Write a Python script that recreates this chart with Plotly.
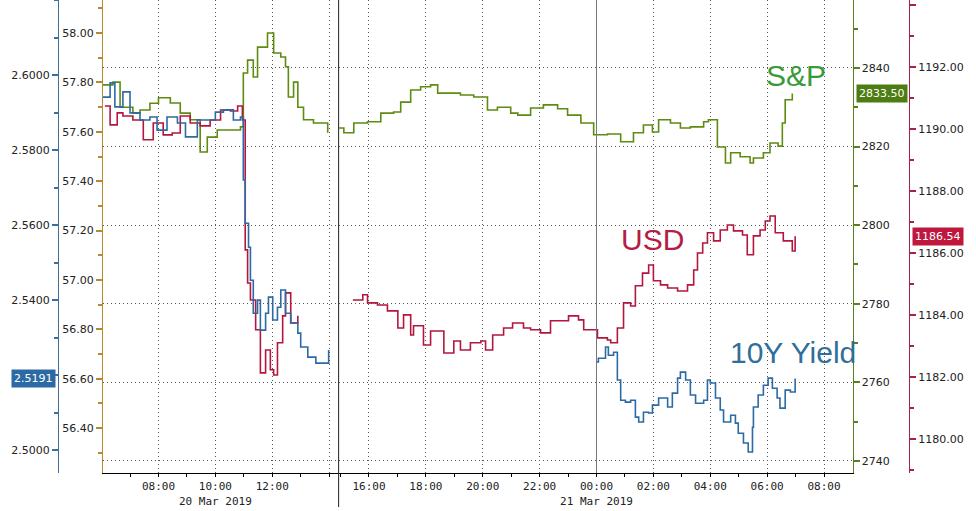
import plotly.graph_objects as go

# ---------------- data ----------------
# times are "DD HH:MM" in March 2019; None marks a session gap
SP_TIME = ["20 06:03", "20 06:24", "20 06:39", "20 07:06", "20 07:21", "20 07:42", "20 08:00",
           "20 08:25", "20 08:46", "20 09:07", "20 09:28", "20 09:43", "20 10:04", "20 10:32",
           "20 10:53", "20 10:59", "20 11:08", "20 11:20", "20 11:29", "20 11:50", "20 12:03",
           "20 12:18", "20 12:28", "20 12:34", "20 12:45", "20 12:54", "20 13:06", "20 13:27",
           "20 13:57", None,
           "20 14:57", "20 15:07", "20 15:28", "20 15:57", "20 16:25", "20 16:52", "20 17:07",
           "20 17:28", "20 17:49", "20 18:10", "20 18:25", "20 18:46", "20 19:13", "20 19:41",
           "20 20:10", "20 20:31", "20 20:59", "20 21:14", "20 21:41", "20 22:08", "20 22:38",
           "20 22:59", "20 23:27", "20 23:54", "21 00:23", "21 00:51", "21 01:18", "21 01:39",
           "21 01:58", "21 02:11", "21 02:36", "21 02:57", "21 03:18", "21 03:46", "21 03:56",
           "21 04:15", "21 04:32", "21 04:43", "21 05:03", "21 05:24", "21 05:31", "21 05:52",
           "21 06:06", "21 06:23", "21 06:32", "21 06:38", "21 06:53"]
SP_VALUE = [2835.7, 2836.4, 2830.0, 2828.5, 2829.3, 2831.0, 2832.4,
            2831.1, 2828.5, 2826.8, 2818.6, 2822.4, 2824.2, 2824.2,
            2825.0, 2838.7, 2842.0, 2837.7, 2845.3, 2848.9, 2843.8,
            2842.8, 2840.3, 2832.6, 2836.4, 2830.0, 2826.8, 2826.0,
            2823.5, None,
            2824.7, 2823.5, 2826.0, 2826.3, 2828.5, 2828.8, 2831.3,
            2834.4, 2835.2, 2835.7, 2833.6, 2833.6, 2833.1, 2832.6,
            2829.3, 2830.0, 2828.5, 2828.0, 2829.8, 2830.6, 2829.6,
            2828.0, 2826.0, 2823.0, 2823.2, 2821.2, 2823.5, 2825.5,
            2823.7, 2826.8, 2826.0, 2824.7, 2825.0, 2826.3, 2826.8,
            2819.9, 2815.8, 2818.4, 2817.4, 2815.8, 2817.1, 2818.4,
            2820.9, 2820.1, 2826.0, 2831.9, 2833.5]

USD_TIME = ["20 06:07", "20 06:18", "20 06:33", "20 06:45", "20 07:06", "20 07:28", "20 07:49",
            "20 08:10", "20 08:29", "20 08:46", "20 09:07", "20 09:28", "20 09:49", "20 10:11",
            "20 10:32", "20 10:47", "20 10:57", "20 11:03", "20 11:08", "20 11:14", "20 11:25",
            "20 11:35", "20 11:46", "20 11:56", "20 12:03", "20 12:11", "20 12:22", "20 12:28",
            "20 12:39", "20 12:54", None,
            "20 15:26", "20 15:47", "20 15:57", "20 16:18", "20 16:39", "20 17:01", "20 17:13",
            "20 17:28", "20 17:34", "20 17:55", "20 18:10", "20 18:38", "20 18:59", "20 19:13",
            "20 19:34", "20 19:56", "20 20:06", "20 20:21", "20 20:44", "20 21:03", "20 21:26",
            "20 21:41", "20 22:02", "20 22:23", "20 22:44", "20 23:01", "20 23:22", "20 23:33",
            "20 23:54", "21 00:02", "21 00:23", "21 00:30", "21 00:44", "21 00:57", "21 01:12",
            "21 01:22", "21 01:37", "21 01:50", "21 02:00", "21 02:15", "21 02:30", "21 02:51",
            "21 03:12", "21 03:25", "21 03:33", "21 03:44", "21 03:54", "21 04:07", "21 04:21",
            "21 04:36", "21 04:49", "21 05:08", "21 05:18", "21 05:31", "21 05:45", "21 05:56",
            "21 06:06", "21 06:17", "21 06:34", "21 06:53", "21 06:59"]
USD_VALUE = [1190.74, 1190.13, 1190.52, 1190.42, 1190.29, 1189.65, 1190.19,
             1189.81, 1189.87, 1190.42, 1190.19, 1190.10, 1190.29, 1190.61,
             1190.58, 1190.74, 1190.29, 1186.10, 1185.03, 1184.48, 1183.52,
             1182.13, 1182.87, 1182.23, 1182.06, 1183.10, 1183.97, 1184.71,
             1183.74, 1183.97, None,
             1184.48, 1184.65, 1184.39, 1184.32, 1184.13, 1183.58, 1184.00,
             1183.35, 1183.65, 1183.03, 1183.48, 1182.77, 1183.16, 1182.87,
             1183.10, 1183.16, 1182.87, 1183.35, 1183.58, 1183.74, 1183.58,
             1183.52, 1183.42, 1183.81, 1183.81, 1183.97, 1183.84, 1183.52,
             1183.52, 1183.26, 1183.19, 1183.10, 1183.58, 1184.39, 1184.29,
             1184.94, 1185.35, 1185.61, 1185.10, 1184.97, 1184.87, 1184.77,
             1184.97, 1185.45, 1186.00, 1186.32, 1186.65, 1186.39, 1186.74,
             1186.90, 1186.71, 1186.58, 1185.94, 1186.55, 1186.74, 1187.03,
             1187.19, 1186.65, 1186.39, 1186.06, 1186.54]

YLD_TIME = ["20 06:03", "20 06:18", "20 06:28", "20 06:45", "20 07:00", "20 07:21", "20 07:42",
            "20 07:57", "20 08:18", "20 08:40", "20 08:57", "20 09:22", "20 09:43", "20 10:00",
            "20 10:17", "20 10:38", "20 10:53", "20 10:59", "20 11:03", "20 11:10", "20 11:14",
            "20 11:20", "20 11:29", "20 11:35", "20 11:46", "20 11:52", "20 12:01", "20 12:11",
            "20 12:18", "20 12:28", "20 12:39", "20 12:54", "20 13:00", "20 13:15", "20 13:32",
            "20 13:53", "20 13:59", None,
            "21 00:00", "21 00:04", "21 00:19", "21 00:25", "21 00:36", "21 00:44", "21 00:51",
            "21 01:01", "21 01:12", "21 01:22", "21 01:29", "21 01:39", "21 01:50", "21 01:58",
            "21 02:11", "21 02:30", "21 02:40", "21 02:51", "21 02:57", "21 03:08", "21 03:18",
            "21 03:29", "21 03:46", "21 03:54", "21 04:00", "21 04:11", "21 04:21", "21 04:28",
            "21 04:43", "21 04:53", "21 04:59", "21 05:10", "21 05:20", "21 05:29", "21 05:31",
            "21 05:41", "21 05:52", "21 06:02", "21 06:11", "21 06:21", "21 06:27", "21 06:38",
            "21 06:49", "21 06:59"]
YLD_VALUE = [2.5941, 2.5979, 2.5915, 2.5955, 2.5899, 2.5880, 2.5888,
             2.5853, 2.5888, 2.5872, 2.5835, 2.5880, 2.5880, 2.5901,
             2.5907, 2.5880, 2.5888, 2.5720, 2.5605, 2.5541, 2.5453,
             2.5365, 2.5400, 2.5320, 2.5365, 2.5408, 2.5347, 2.5381,
             2.5427, 2.5365, 2.5339, 2.5312, 2.5275, 2.5248, 2.5232,
             2.5232, 2.5267, None,
             2.5235, 2.5245, 2.5275, 2.5253, 2.5261, 2.5187, 2.5133,
             2.5128, 2.5133, 2.5088, 2.5075, 2.5101, 2.5099, 2.5120,
             2.5139, 2.5115, 2.5152, 2.5192, 2.5208, 2.5187, 2.5147,
             2.5125, 2.5133, 2.5187, 2.5179, 2.5139, 2.5107, 2.5075,
             2.5093, 2.5072, 2.5045, 2.5019, 2.4995, 2.5061, 2.5115,
             2.5147, 2.5173, 2.5192, 2.5165, 2.5139, 2.5112, 2.5160,
             2.5155, 2.5191]

SP_LAST, USD_LAST, YLD_LAST = 2833.50, 1186.54, 2.5191

X_TICKS = ["20 08:00", "20 10:00", "20 12:00", "20 14:00", "20 16:00", "20 18:00", "20 20:00",
           "20 22:00", "21 00:00", "21 02:00", "21 04:00", "21 06:00", "21 08:00"]
X_LABELS = ["08:00", "10:00<br>20 Mar 2019", "12:00", "", "16:00", "18:00", "20:00",
            "22:00", "00:00<br>21 Mar 2019", "02:00", "04:00", "06:00", "08:00"]
X_MINOR = ["20 07:00", "20 09:00", "20 11:00", "20 13:00", "20 15:00", "20 17:00", "20 19:00",
           "20 21:00", "20 23:00", "21 01:00", "21 03:00", "21 05:00", "21 07:00"]

SP_TICKS = [2740, 2760, 2780, 2800, 2820, 2840]
USD_TICKS = [1180, 1182, 1184, 1186, 1188, 1190, 1192, 1194]
YLD_TICKS = [2.50, 2.52, 2.54, 2.56, 2.58, 2.60]
YLD_LABELS = ["2.5000", "", "2.5400", "2.5600", "2.5800", "2.6000"]  # 2.52 hidden by last-value box
AUX_TICKS = [56.40, 56.60, 56.80, 57.00, 57.20, 57.40, 57.60, 57.80, 58.00]


def ts(s):
    if s is None:
        return None
    d, hm = s.split()
    return f"2019-03-{d} {hm}"


# ---------------- styling ----------------
C_SP, C_USD, C_YLD = "#5e8b12", "#b3173f", "#2c6aa3"
AX_SP, AX_USD, AX_YLD, AX_AUX = "#5b7f1e", "#a8204c", "#3c6f99", "#b88a2e"
TXT = "#222222"
YFONT = dict(family="DejaVu Sans", size=11, color=TXT)

fig = go.Figure()
fig.add_trace(go.Scatter(x=[ts(t) for t in USD_TIME], y=USD_VALUE, yaxis="y2", mode="lines",
                         line=dict(color=C_USD, width=1.6, shape="hv"), connectgaps=False,
                         hoverinfo="skip"))
fig.add_trace(go.Scatter(x=[ts(t) for t in YLD_TIME], y=YLD_VALUE, yaxis="y3", mode="lines",
                         line=dict(color=C_YLD, width=1.6, shape="hv"), connectgaps=False,
                         hoverinfo="skip"))
fig.add_trace(go.Scatter(x=[ts(t) for t in SP_TIME], y=SP_VALUE, yaxis="y", mode="lines",
                         line=dict(color=C_SP, width=1.6, shape="hv"), connectgaps=False,
                         hoverinfo="skip"))
fig.add_trace(go.Scatter(x=[None], y=[None], yaxis="y4", mode="lines", hoverinfo="skip"))

X0, X1 = 103 / 976, 852.5 / 976

fig.update_layout(
    width=976, height=511,
    margin=dict(l=0, r=0, t=0, b=38),
    paper_bgcolor="white", plot_bgcolor="white",
    showlegend=False,
    xaxis=dict(
        domain=[X0, X1], type="date",
        range=[ts("20 06:03"), ts("21 09:00")],
        rangebreaks=[dict(bounds=[ts("20 14:20"), ts("20 14:56")])],
        tickmode="array", tickvals=[ts(t) for t in X_TICKS], ticktext=X_LABELS,
        ticks="outside", ticklen=3, tickcolor="#000", tickwidth=1,
        minor=dict(tickmode="array", tickvals=[ts(t) for t in X_MINOR], ticks="outside",
                   ticklen=3, tickcolor="#000", showgrid=False),
        showline=True, linecolor="#000", linewidth=1,
        showgrid=True, gridcolor="#555", griddash="1px,3px", gridwidth=1,
        tickfont=dict(family="DejaVu Sans Mono", size=11, color=TXT),
        zeroline=False, fixedrange=True,
    ),
    yaxis=dict(  # S&P, right inner
        side="right", anchor="x", range=[2736.9, 2857.3],
        tickmode="array", tickvals=SP_TICKS, ticktext=[str(v) for v in SP_TICKS],
        ticks="outside", ticklen=6, tickwidth=2, tickcolor=AX_SP,
        minor=dict(dtick=10, ticks="outside", ticklen=4, tickcolor=AX_SP, showgrid=False),
        showline=True, linecolor=AX_SP, linewidth=1,
        showgrid=True, gridcolor="#555", griddash="1px,3px", gridwidth=1,
        tickfont=YFONT, zeroline=False,
    ),
    yaxis2=dict(  # USD, right outer
        side="right", anchor="free", position=909 / 976, overlaying="y",
        range=[1178.9, 1194.16],
        tickmode="array", tickvals=USD_TICKS, ticktext=[f"{v:.2f}" for v in USD_TICKS],
        ticks="outside", ticklen=6, tickwidth=2, tickcolor=AX_USD,
        minor=dict(dtick=1, ticks="outside", ticklen=4, tickcolor=AX_USD, showgrid=False),
        showline=True, linecolor=AX_USD, linewidth=1,
        showgrid=False, tickfont=YFONT, zeroline=False,
    ),
    yaxis3=dict(  # 10Y yield, left outer
        side="left", anchor="free", position=58 / 976, overlaying="y",
        range=[2.4939, 2.62],
        tickmode="array", tickvals=YLD_TICKS, ticktext=YLD_LABELS,
        ticks="outside", ticklen=6, tickwidth=2, tickcolor=AX_YLD,
        minor=dict(dtick=0.01, ticks="outside", ticklen=4, tickcolor=AX_YLD, showgrid=False),
        showline=True, linecolor=AX_YLD, linewidth=1,
        showgrid=False, tickfont=YFONT, zeroline=False,
    ),
    yaxis4=dict(  # auxiliary left inner
        side="left", anchor="x", overlaying="y",
        range=[56.218, 58.134],
        tickmode="array", tickvals=AUX_TICKS, ticktext=[f"{v:.2f}" for v in AUX_TICKS],
        ticks="outside", ticklen=6, tickwidth=2, tickcolor=AX_AUX,
        minor=dict(dtick=0.1, ticks="outside", ticklen=4, tickcolor=AX_AUX, showgrid=False),
        showline=True, linecolor=AX_AUX, linewidth=1,
        showgrid=False, tickfont=YFONT, zeroline=False,
    ),
)

# session separators
fig.add_shape(type="line", xref="x", yref="paper", x0=ts("20 14:20"), x1=ts("20 14:20"),
              y0=-0.072, y1=1, line=dict(color="#222", width=1))
fig.add_shape(type="line", xref="x", yref="paper", x0=ts("21 00:00"), x1=ts("21 00:00"),
              y0=0, y1=1, line=dict(color="#777", width=1))

# series names
fig.add_annotation(text="S&P", xref="x", yref="y", x=ts("21 07:00"), y=2838.2, showarrow=False,
                   font=dict(family="Liberation Sans", size=30, color="#3a9a3a"))
fig.add_annotation(text="USD", xref="x", yref="y2", x=ts("21 01:58"), y=1186.42, showarrow=False,
                   font=dict(family="Liberation Sans", size=30, color="#b51d46"))
fig.add_annotation(text="10Y Yield", xref="x", yref="y3", x=ts("21 06:55"), y=2.5261,
                   showarrow=False, font=dict(family="Liberation Sans", size=30, color="#2f6f9a"))

# last-value boxes
LBL = dict(family="DejaVu Sans", size=11, color="white")
fig.add_annotation(text=f"{YLD_LAST:.4f}", xref="paper", yref="y3", x=56 / 976, y=YLD_LAST,
                   xanchor="right", showarrow=False, bgcolor="#2d6aa3", font=LBL, borderpad=2)
fig.add_annotation(text=f"{SP_LAST:.2f}", xref="paper", yref="y", x=856 / 976, y=SP_LAST,
                   xanchor="left", showarrow=False, bgcolor="#4d7c12", font=LBL, borderpad=2)
fig.add_annotation(text=f"{USD_LAST:.2f}", xref="paper", yref="y2", x=912 / 976, y=USD_LAST,
                   xanchor="left", showarrow=False, bgcolor="#c0173f", font=LBL, borderpad=2)

fig.write_html("out.html", config={"displayModeBar": False},
               post_script="document.body.style.margin='0';")
